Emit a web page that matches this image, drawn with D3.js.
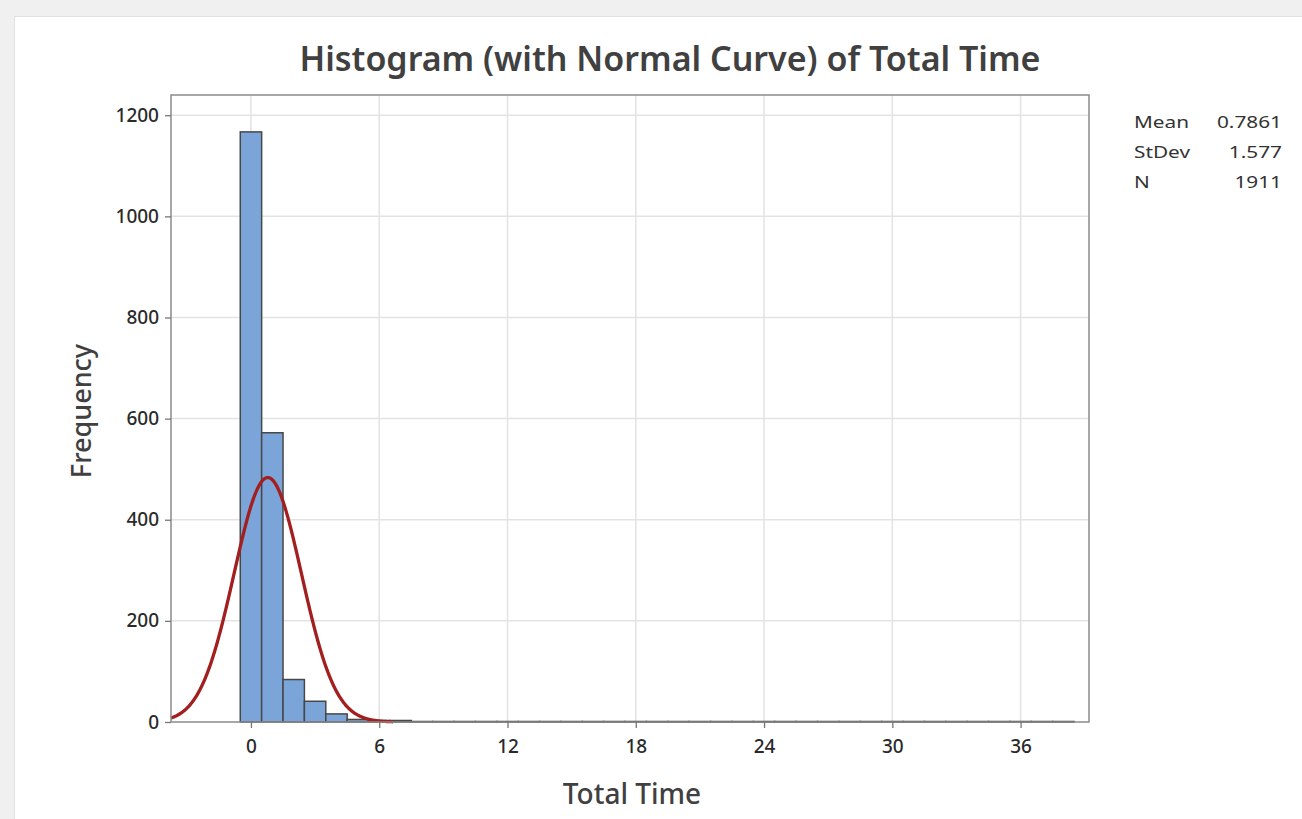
<!DOCTYPE html>
<html>
<head>
<meta charset="utf-8">
<script src="https://cdn.jsdelivr.net/npm/d3@7"></script>
<style>
  body { margin: 0; background: #f0f0f0; }
  svg text { font-family: "Noto Sans", "Open Sans", sans-serif; fill: #333; }
</style>
</head>
<body>
<div id="chart"></div>
<script>
// bin centres (bin width 1) and the counts
const binCenters = d3.range(0, 39);
const counts = [1167, 572, 84, 41, 16, 5, 3, 3,
  1, 1, 1, 1, 1, 1, 1, 1, 1, 1, 1, 1, 1, 1, 1, 1, 1, 1, 1, 1, 1, 1, 1, 1, 1, 1, 1, 1, 1, 1, 1];

// summary stats shown at the right
const statLabels = ["Mean", "StDev", "N"];
const statValues = ["0.7861", "1.577", "1911"];
const mean = 0.7861, sd = 1.577, n = 1911;

const xTicks = [0, 6, 12, 18, 24, 30, 36];
const yTicks = [0, 200, 400, 600, 800, 1000, 1200];

const W = 1302, H = 819;
const plot = { left: 171, top: 95, right: 1089, bottom: 722 };

const svg = d3.select("#chart").append("svg")
  .attr("width", W).attr("height", H);

// white panel
svg.append("rect")
  .attr("x", 14.5).attr("y", 16.5)
  .attr("width", W).attr("height", H)
  .attr("fill", "#fff").attr("stroke", "#e0e0e0");

const x = d3.scaleLinear().domain([-3.74, 39.2]).range([plot.left, plot.right]);
const y = d3.scaleLinear().domain([0, 1240]).range([plot.bottom, plot.top]);

// gridlines
svg.append("g").selectAll("line").data(xTicks).enter().append("line")
  .attr("x1", d => x(d)).attr("x2", d => x(d))
  .attr("y1", plot.top).attr("y2", plot.bottom)
  .attr("stroke", "#e3e3e3").attr("stroke-width", 1.5);
svg.append("g").selectAll("line").data(yTicks.slice(1)).enter().append("line")
  .attr("x1", plot.left).attr("x2", plot.right)
  .attr("y1", d => y(d)).attr("y2", d => y(d))
  .attr("stroke", "#e3e3e3").attr("stroke-width", 1.5);

// bars
svg.append("g").selectAll("rect")
  .data(binCenters.map((c, i) => ({ c: c, n: counts[i] })))
  .enter().append("rect")
  .attr("x", d => x(d.c - 0.5))
  .attr("width", d => x(d.c + 0.5) - x(d.c - 0.5))
  .attr("y", d => y(d.n))
  .attr("height", d => y(0) - y(d.n))
  .attr("fill", "#7ba5d9")
  .attr("stroke", "#474747")
  .attr("stroke-width", 1.5);

// normal curve, scaled to counts (bin width 1)
const x0 = Math.max(x.domain()[0], mean - 3.72 * sd);
const x1 = mean + 3.72 * sd;
const curve = d3.range(x0, x1 + 0.001, 0.02).map(v =>
  [v, n * Math.exp(-0.5 * ((v - mean) / sd) ** 2) / (sd * Math.sqrt(2 * Math.PI))]);
svg.append("path")
  .datum(curve)
  .attr("fill", "none")
  .attr("stroke", "#a31f1f")
  .attr("stroke-width", 3.3)
  .attr("d", d3.line().x(d => x(d[0])).y(d => y(d[1])));

// frame
svg.append("rect")
  .attr("x", plot.left).attr("y", plot.top)
  .attr("width", plot.right - plot.left).attr("height", plot.bottom - plot.top)
  .attr("fill", "none").attr("stroke", "#8a8a8a").attr("stroke-width", 1.5);

// axes
const xAxis = svg.append("g")
  .attr("transform", `translate(0,${plot.bottom})`)
  .call(d3.axisBottom(x).tickValues(xTicks).tickSize(6).tickPadding(12));
const yAxis = svg.append("g")
  .attr("transform", `translate(${plot.left},0)`)
  .call(d3.axisLeft(y).tickValues(yTicks).tickFormat(d3.format("d")).tickSize(6).tickPadding(6));
[xAxis, yAxis].forEach(a => {
  a.select(".domain").remove();
  a.selectAll(".tick line").attr("stroke", "#777").attr("stroke-width", 1.3);
  a.selectAll(".tick text").style("font-size", "19px").style("font-weight", 500).style("fill", "#2a2a2a");
});

// title and axis labels
svg.append("text")
  .attr("x", 670).attr("y", 71)
  .attr("text-anchor", "middle")
  .style("font-size", "34px").style("font-weight", 600).style("fill", "#404040")
  .text("Histogram (with Normal Curve) of Total Time");
svg.append("text")
  .attr("x", 632).attr("y", 804)
  .attr("text-anchor", "middle")
  .style("font-size", "28px").style("font-weight", 500).style("fill", "#404040")
  .text("Total Time");
svg.append("text")
  .attr("transform", "translate(91,411) rotate(-90)")
  .attr("text-anchor", "middle")
  .style("font-size", "27px").style("font-weight", 500).style("fill", "#404040")
  .text("Frequency");

// stats table, stretched a little wider like the original
const stats = svg.append("g");
stats.selectAll(".lab").data(statLabels).enter().append("text")
  .attr("transform", (d, i) => `translate(1134,${128 + i * 30}) scale(1.3,1)`)
  .style("font-size", "16px")
  .text(d => d);
stats.selectAll(".val").data(statValues).enter().append("text")
  .attr("transform", (d, i) => `translate(1282,${128 + i * 30}) scale(1.3,1)`)
  .attr("text-anchor", "end")
  .style("font-size", "16px")
  .text(d => d);
</script>
</body>
</html>
